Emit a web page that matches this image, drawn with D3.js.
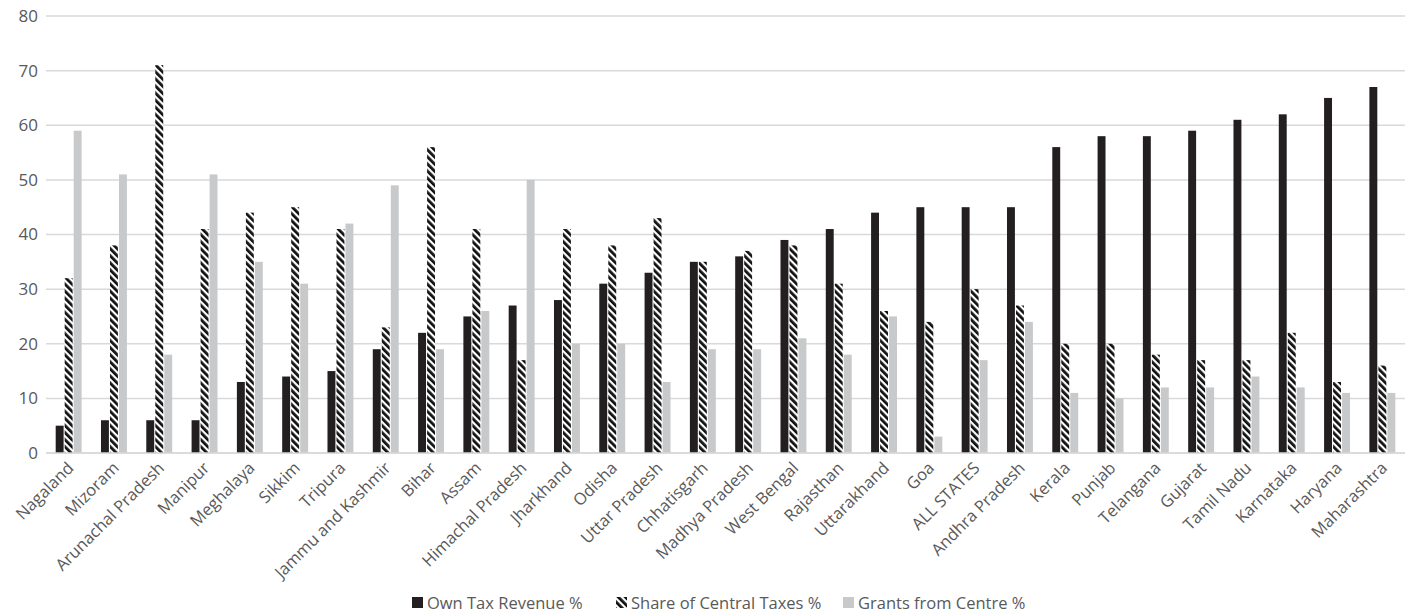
<!DOCTYPE html>
<html><head><meta charset="utf-8">
<script src="https://cdn.jsdelivr.net/npm/d3@7"></script>
<style>body{margin:0;background:#fff;} svg{display:block;font-family:"Open Sans",sans-serif;}</style>
</head><body><svg id="c" width="1412" height="615"></svg>
<script>
const categories = ["Nagaland","Mizoram","Arunachal Pradesh","Manipur","Meghalaya","Sikkim","Tripura","Jammu and Kashmir","Bihar","Assam","Himachal Pradesh","Jharkhand","Odisha","Uttar Pradesh","Chhatisgarh","Madhya Pradesh","West Bengal","Rajasthan","Uttarakhand","Goa","ALL STATES","Andhra Pradesh","Kerala","Punjab","Telangana","Gujarat","Tamil Nadu","Karnataka","Haryana","Maharashtra"];
const ownTax = [5,6,6,6,13,14,15,19,22,25,27,28,31,33,35,36,39,41,44,45,45,45,56,58,58,59,61,62,65,67];
const centralShare = [32,38,71,41,44,45,41,23,56,41,17,41,38,43,35,37,38,31,26,24,30,27,20,20,18,17,17,22,13,16];
const grants = [59,51,18,51,35,31,42,49,19,26,50,20,20,13,19,19,21,18,25,3,17,24,11,10,12,12,14,12,11,11];
const seriesNames = ["Own Tax Revenue %","Share of Central Taxes %","Grants from Centre %"];
const yTicks = [0,10,20,30,40,50,60,70,80];

const svg = d3.select("#c");
const defs = svg.append("defs");
const pat = defs.append("pattern").attr("id","hatch").attr("patternUnits","userSpaceOnUse")
  .attr("width",5).attr("height",10).attr("patternTransform","rotate(-45)");
pat.append("rect").attr("width",5).attr("height",10).attr("fill","#fff");
pat.append("rect").attr("width",2.8).attr("height",10).attr("fill","#111");

const fills = ["#231f20","url(#hatch)","#c8c9cb"];
const L = 46, R = 1405, T = 16, B = 453;
const x = d3.scaleBand().domain(categories).range([L,R]).paddingInner(0.38).paddingOuter(0.19);
const xs = d3.scaleBand().domain([0,1,2]).range([0,x.bandwidth()]).padding(0.12);
const y = d3.scaleLinear().domain([0,80]).range([B,T]);

// grid
svg.append("g").selectAll("line").data(yTicks).join("line")
  .attr("x1",L).attr("x2",R).attr("y1",d=>y(d)).attr("y2",d=>y(d))
  .attr("stroke","#d9d9d9").attr("stroke-width",1.5);

// y labels
const yAxis = svg.append("g").attr("transform",`translate(${L},0)`).call(d3.axisLeft(y).tickValues(yTicks).tickSize(0).tickPadding(8));
yAxis.select(".domain").remove();
yAxis.selectAll("text").attr("font-size",17).attr("fill","#595959").attr("font-family","Open Sans, sans-serif");

// bars
const data = categories.map((c,i)=>({c, v:[ownTax[i],centralShare[i],grants[i]]}));
const g = svg.append("g").selectAll("g").data(data).join("g").attr("transform",d=>`translate(${x(d.c)},0)`);
g.selectAll("rect").data(d=>d.v.map((v,k)=>({v,k}))).join("rect")
  .attr("x",d=>xs(d.k)).attr("width",xs.bandwidth())
  .attr("y",d=>y(d.v)).attr("height",d=>B-y(d.v))
  .attr("fill",d=>fills[d.k]);

// baseline
svg.append("line").attr("x1",L).attr("x2",R).attr("y1",B).attr("y2",B).attr("stroke","#d9d9d9").attr("stroke-width",1.5);

// x labels
const xAxis = svg.append("g").attr("transform",`translate(0,${B})`).call(d3.axisBottom(x).tickSize(0).tickPadding(0));
xAxis.select(".domain").remove();
xAxis.selectAll("text").attr("font-size",16.5).attr("fill","#595959").attr("font-family","Open Sans, sans-serif")
  .attr("text-anchor","end").attr("dy","0").attr("y",0)
  .attr("transform","translate(6,16) rotate(-45)");

// legend
const leg = svg.append("g").attr("transform","translate(0,603)");
const legX = [412, 616, 843];
seriesNames.forEach((n,k)=>{
  leg.append("rect").attr("x",legX[k]).attr("y",-6).attr("width",11).attr("height",11).attr("fill",fills[k]);
  leg.append("text").attr("x",legX[k]+15).attr("y",5.5).attr("font-size",16.5).attr("fill","#595959").text(n);
});
</script></body></html>
